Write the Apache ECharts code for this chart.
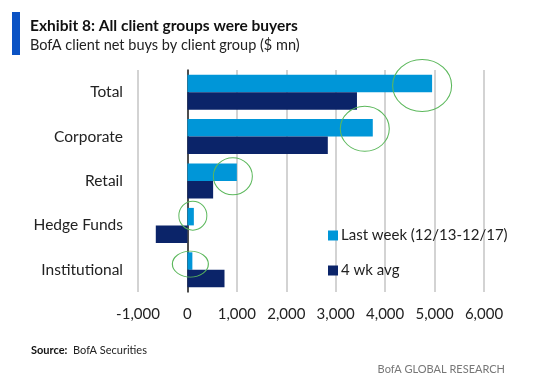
<!DOCTYPE html>
<html><head><meta charset="utf-8">
<script src="https://cdn.jsdelivr.net/npm/echarts@6/dist/echarts.min.js"></script>
<style>html,body{margin:0;padding:0;background:#fff}#c{width:537px;height:379px}</style>
</head><body><div id="c"></div>
<script>
var categories = ['Total', 'Corporate', 'Retail', 'Hedge Funds', 'Institutional'];
var lastWeek = [4950, 3750, 1000, 130, 100];
var fourWkAvg = [3430, 2840, 520, -640, 750];
var seriesNames = ['Last week (12/13-12/17)', '4 wk avg'];
var xTicks = { min: -1000, max: 6000, interval: 1000 };
// annotation ellipse sizes/offsets (style only)
var circleSize = [[59, 52], [49, 45], [39, 37], [28, 29], [36, 26]];
var circleOffset = [[-10, 2], [-8, 1], [-4, 4], [-1, -1], [-2, 3]];

var FONT = 'Lato';
var chart = echarts.init(document.getElementById('c'), null, { renderer: 'canvas' });
var option = {
  animation: false,
  textStyle: { fontFamily: FONT },
  graphic: [
    { type: 'rect', left: 12, top: 12, shape: { width: 8, height: 43 }, style: { fill: '#0a52c4' } },
    { type: 'text', left: 30, top: 18, style: { text: 'Exhibit 8: All client groups were buyers', font: 'bold 15.5px ' + FONT, fill: '#111' } },
    { type: 'text', left: 30, top: 38, style: { text: 'BofA client net buys by client group ($ mn)', font: '14.5px ' + FONT, fill: '#222' } },
    { type: 'text', left: 31, top: 345, style: { text: '{b|Source:}  BofA Securities', rich: { b: { fontWeight: 'bold', fontSize: 11, fontFamily: FONT, fill: '#111' } }, font: '11px ' + FONT, fill: '#222' } },
    { type: 'text', right: 32, top: 364, style: { text: 'BofA GLOBAL RESEARCH', font: '11px ' + FONT, fill: '#777' } }
  ],
  grid: { left: 138, top: 70, width: 346, height: 222, containLabel: false, outerBoundsMode: 'none' },
  legend: {
    left: 323, top: 223, orient: 'vertical', itemWidth: 10, itemHeight: 10, itemGap: 20,
    icon: 'rect', textStyle: { fontSize: 15, color: '#222', fontFamily: FONT, padding: [0, 0, 0, -2] },
    data: seriesNames
  },
  xAxis: {
    type: 'value', min: xTicks.min, max: xTicks.max, interval: xTicks.interval,
    axisLine: { show: false }, axisTick: { show: false },
    splitLine: { show: true, lineStyle: { color: '#c4c4c4', width: 1.5 } },
    axisLabel: { fontSize: 15, color: '#222', margin: 15, formatter: function (v) { return v.toLocaleString('en-US'); } }
  },
  yAxis: {
    type: 'category', data: categories, inverse: true,
    axisLine: { show: true, onZero: true, lineStyle: { color: '#222', width: 1.5 } },
    axisTick: { show: false },
    axisLabel: { fontSize: 15.5, color: '#222', margin: 15 }
  },
  series: [
    {
      name: seriesNames[0], type: 'bar', data: lastWeek, barWidth: 17.5, barGap: '0%',
      itemStyle: { color: '#0096d8' },
      markPoint: {
        silent: true,
        label: { show: false },
        data: lastWeek.map(function (v, i) {
          return { coord: [v, categories[i]], symbol: 'circle', symbolSize: circleSize[i], symbolOffset: circleOffset[i],
            itemStyle: { color: 'rgba(0,0,0,0)', borderColor: '#5cb85c', borderWidth: 1 } };
        })
      }
    },
    {
      name: seriesNames[1], type: 'bar', data: fourWkAvg, barWidth: 17.5, barGap: '0%',
      itemStyle: { color: '#0b2469' }
    }
  ]
};
chart.setOption(option);
</script></body></html>
